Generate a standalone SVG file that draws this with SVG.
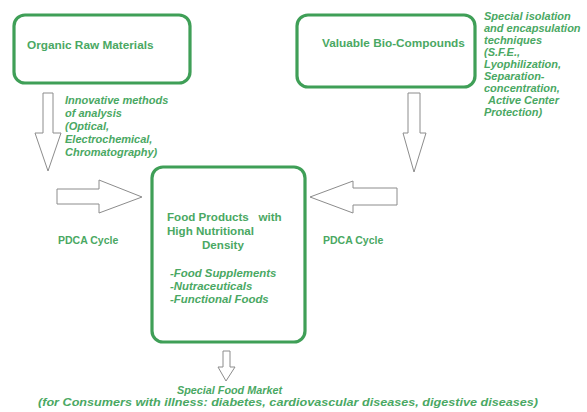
<svg xmlns="http://www.w3.org/2000/svg" width="587" height="412" viewBox="0 0 587 412">
  <style>
    .box { fill: #ffffff; stroke: #3f9f57; stroke-width: 3.2; }
    .arrow { fill: #ffffff; stroke: #8c8c8c; stroke-width: 1; stroke-linejoin: miter; }
    .title { font-family: "Liberation Sans", Arial, sans-serif; font-weight: bold; fill: #4aa863; }
    .note { font-family: "Liberation Sans", Arial, sans-serif; font-weight: bold; font-style: italic; fill: #4aa863; }
  </style>
  <rect width="587" height="412" fill="#ffffff"/>

  <!-- connectors: hollow block arrows -->
  <g id="connectors">
    <polygon class="arrow" points="43,93 53,93 53,133 61,133 48,171 35,133 43,133"/>
    <polygon class="arrow" points="408,93 420,93 420,133 426,133 414,172 403,133 408,133"/>
    <polygon class="arrow" points="57,189 99,189 99,180 142,197 99,213 99,204 57,204"/>
    <polygon class="arrow" points="397,188 353,188 353,181 310,197 353,213 353,205 397,205"/>
    <polygon class="arrow" points="223,351 230,351 230,367 235,367 226,381 218,367 223,367"/>
  </g>

  <g id="organic-raw-materials">
    <rect class="box" x="14" y="15" width="176" height="68" rx="11"/>
    <text class="title" x="27" y="49" font-size="11.8">Organic Raw Materials</text>
  </g>

  <g id="valuable-bio-compounds">
    <rect class="box" x="297" y="15" width="178" height="72" rx="11"/>
    <text class="title" x="322" y="47" font-size="11.8">Valuable Bio-Compounds</text>
  </g>

  <g id="food-products">
    <rect class="box" x="152" y="167" width="153" height="175" rx="11"/>
    <text class="title" x="167" y="221" font-size="11.6" xml:space="preserve">Food Products   with</text>
    <text class="title" x="167" y="235" font-size="11.6">High Nutritional</text>
    <text class="title" x="202" y="249" font-size="11.6">Density</text>
    <text class="note" x="170" y="277" font-size="11.4">-Food Supplements</text>
    <text class="note" x="170" y="290" font-size="11.4">-Nutraceuticals</text>
    <text class="note" x="170" y="303" font-size="11.4">-Functional Foods</text>
  </g>

  <g id="analysis-methods">
    <text class="note" font-size="11">
      <tspan x="65" y="104">Innovative methods</tspan>
      <tspan x="65" y="117">of analysis</tspan>
      <tspan x="65" y="130">(Optical,</tspan>
      <tspan x="65" y="143">Electrochemical,</tspan>
      <tspan x="65" y="156">Chromatography)</tspan>
    </text>
  </g>

  <g id="isolation-techniques">
    <text class="note" font-size="11">
      <tspan x="484" y="19.5">Special isolation</tspan>
      <tspan x="484" y="31.5">and encapsulation</tspan>
      <tspan x="484" y="43.5">techniques</tspan>
      <tspan x="484" y="55.5">(S.F.E.,</tspan>
      <tspan x="484" y="67.5">Lyophilization,</tspan>
      <tspan x="484" y="79.5">Separation-</tspan>
      <tspan x="484" y="91.5">concentration,</tspan>
      <tspan x="488" y="103.5">Active Center</tspan>
      <tspan x="484" y="115.5">Protection)</tspan>
    </text>
  </g>

  <g id="pdca-left">
    <text class="title" x="58" y="244" font-size="10.5">PDCA Cycle</text>
  </g>
  <g id="pdca-right">
    <text class="title" x="323" y="244" font-size="10.5">PDCA Cycle</text>
  </g>

  <g id="special-food-market">
    <text class="note" x="177" y="394" font-size="10.8">Special Food Market</text>
    <text class="note" x="38" y="406" font-size="11.6" textLength="500" lengthAdjust="spacingAndGlyphs">(for Consumers with illness: diabetes, cardiovascular diseases, digestive diseases)</text>
  </g>
</svg>
